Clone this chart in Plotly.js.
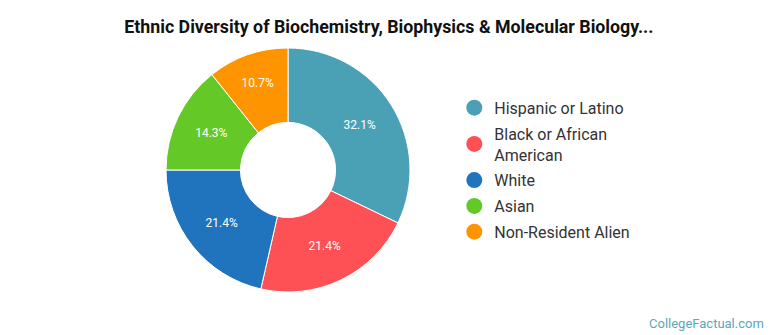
<!DOCTYPE html>
<html>
<head>
<meta charset="utf-8">
<script src="https://cdn.plot.ly/plotly-3.0.1.min.js"></script>
<style>html,body{margin:0;padding:0;background:#fff;}#chart{width:770px;height:335px;}</style>
</head>
<body>
<div id="chart"></div>
<script>
const categories = ["Hispanic or Latino", "Black or African American", "White", "Asian", "Non-Resident Alien"];
const legendLabels = ["Hispanic or Latino", "Black or African<br>American", "White", "Asian", "Non-Resident Alien"];
const values = [9, 6, 6, 4, 3];
const colors = ["#4aa1b5", "#fd5155", "#1f74bd", "#64c927", "#fe9400"];
const titleText = "Ethnic Diversity of Biochemistry, Biophysics &amp; Molecular Biology...";
const watermark = "CollegeFactual.com";

const pie = {
  type: "pie",
  labels: categories,
  values: values,
  sort: false,
  direction: "clockwise",
  rotation: 0,
  hole: 0.39,
  marker: {colors: colors, line: {color: "#ffffff", width: 1}},
  texttemplate: "%{percent:.1%}",
  textposition: "inside",
  insidetextorientation: "horizontal",
  textfont: {family: "Roboto", size: 12, color: "#ffffff"},
  showlegend: false,
  hoverinfo: "label+percent",
  domain: {x: [166/770, 410/770], y: [1 - 292/335, 1 - 48/335]}
};

const legendTraces = categories.map((c, i) => ({
  type: "scatter",
  mode: "markers",
  x: [null], y: [null],
  name: legendLabels[i],
  legendgroup: "g" + i,
  marker: {color: colors[i], size: 16, symbol: "circle"},
  showlegend: true,
  hoverinfo: "skip"
}));

const layout = {
  width: 770, height: 335,
  margin: {l: 0, r: 0, t: 0, b: 0},
  paper_bgcolor: "#ffffff", plot_bgcolor: "#ffffff",
  title: {text: "<b>" + titleText + "</b>", font: {family: "Roboto", size: 17.8, color: "#111111"}, x: 0.505, xanchor: "center", y: 0.92, yanchor: "middle"},
  xaxis: {visible: false, domain: [0.9, 1]},
  yaxis: {visible: false, domain: [0.9, 1]},
  legend: {x: 0.59, y: 0.729, xanchor: "left", yanchor: "top", traceorder: "grouped", font: {family: "Roboto", size: 16, color: "#333333"}, bgcolor: "rgba(0,0,0,0)", tracegroupgap: 2, itemclick: false},
  annotations: [{text: watermark, xref: "paper", yref: "paper", x: 0.995, y: 0.005, xanchor: "right", yanchor: "bottom", showarrow: false, font: {family: "Roboto", size: 13, color: "#5aa7b8"}}]
};

Plotly.newPlot("chart", [pie].concat(legendTraces), layout, {displayModeBar: false, staticPlot: true});
</script>
</body>
</html>
